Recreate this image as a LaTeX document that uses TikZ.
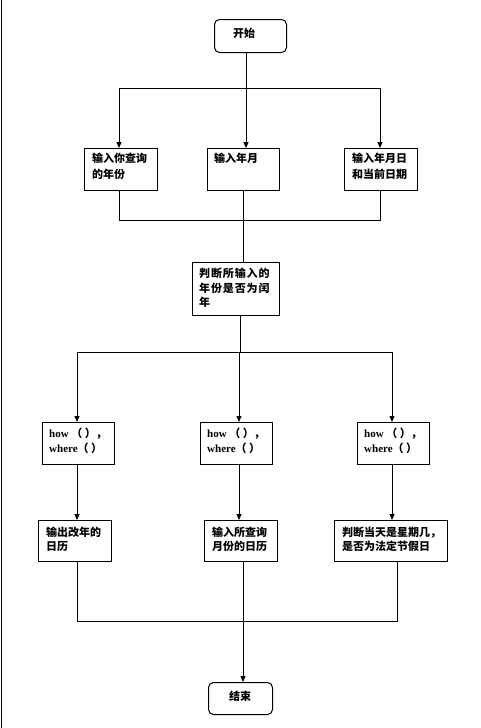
\documentclass[tikz,border=0pt]{standalone}
\usepackage{fontspec}
\setmainfont{Noto Sans CJK SC}
\newfontfamily\latf{Liberation Serif}
\usetikzlibrary{arrows.meta}
\tikzset{
  x=1pt, y=-1pt,
  box/.style={draw, line width=1pt, inner sep=0pt, anchor=north west},
  termbox/.style={box, rounded corners=5pt},
  txt/.style={inner sep=0pt, anchor=north west, align=left, font=\fontsize{11}{15}\selectfont\bfseries},
  ln/.style={line width=1pt},
  arr/.style={line width=1pt, -{Triangle[length=6pt,width=5pt]}}
}
\begin{document}
\begin{tikzpicture}
\useasboundingbox (0,0) rectangle (480,728);
\draw[line width=1pt] (1.5,0) -- (1.5,728);
% boxes
\node[termbox, minimum width=72pt, minimum height=33pt] (s) at (214,19) {};
\node[box, minimum width=73pt, minimum height=42pt] (b1) at (84,148) {};
\node[box, minimum width=72pt, minimum height=42pt] (b2) at (207,148) {};
\node[box, minimum width=73pt, minimum height=42pt] (b3) at (344,148) {};
\node[box, minimum width=87pt, minimum height=53pt] (b4) at (192,262) {};
\node[box, minimum width=72pt, minimum height=42pt] (c1) at (42,422) {};
\node[box, minimum width=72pt, minimum height=42pt] (c2) at (200,422) {};
\node[box, minimum width=72pt, minimum height=42pt] (c3) at (357,422) {};
\node[box, minimum width=73pt, minimum height=41pt] (d1) at (38,520) {};
\node[box, minimum width=73pt, minimum height=41pt] (d2) at (204,520) {};
\node[box, minimum width=113pt, minimum height=41pt] (d3) at (334,520) {};
\node[termbox, minimum width=64pt, minimum height=32pt] (e) at (208,682) {};
% texts
\node[txt] (ts) at ([shift={(19,9)}]s.north west) {开始};
\node[txt] (t1) at ([shift={(8,5)}]b1.north west) {输入你查询\\[1pt]的年份};
\node[txt] (t2) at ([shift={(7,5)}]b2.north west) {输入年月};
\node[txt] (t3) at ([shift={(8,5)}]b3.north west) {输入年月日\\[1pt]和当前日期};
\node[txt, font=\fontsize{11}{14.5}\selectfont\bfseries\addfontfeatures{LetterSpace=8}] (t4) at ([shift={(7,6)}]b4.north west) {判断所输入的\\年份是否为闰\\年};
\node[txt] (tc1) at ([shift={(7,6)}]c1.north west) {{\latf how} （ ），\\{\latf where}（ ）};
\node[txt] (tc2) at ([shift={(7,6)}]c2.north west) {{\latf how} （ ），\\{\latf where}（ ）};
\node[txt] (tc3) at ([shift={(7,6)}]c3.north west) {{\latf how} （ ），\\{\latf where}（ ）};
\node[txt, font=\fontsize{11}{14}\selectfont\bfseries] (td1) at ([shift={(8,7)}]d1.north west) {输出改年的\\日历};
\node[txt, font=\fontsize{11}{14}\selectfont\bfseries] (td2) at ([shift={(8,7)}]d2.north west) {输入所查询\\月份的日历};
\node[txt, font=\fontsize{11}{14}\selectfont\bfseries] (td3) at ([shift={(8,7)}]d3.north west) {判断当天是星期几，\\是否为法定节假日};
\node[txt] (te) at ([shift={(21,9)}]e.north west) {结束};
% junction coordinates
\coordinate (j0) at (246,88);
\coordinate (j1) at (119,88);
\coordinate (j3) at (380,88);
\coordinate (k1) at (119,220);
\coordinate (k3) at (380,220);
\coordinate (m0) at (240,352);
\coordinate (m1) at (77,352);
\coordinate (m2) at (239,352);
\coordinate (m3) at (392,352);
\coordinate (n1) at (77,621);
\coordinate (n2) at (243,621);
\coordinate (n3) at (397,621);
% connectors
\draw[ln] (s.south -| j0) -- (j0);
\draw[ln] (j1) -- (j3);
\draw[arr] (j1) -- (j1 |- b1.north);
\draw[arr] (j0) -- (j0 |- b2.north);
\draw[arr] (j3) -- (j3 |- b3.north);
\draw[ln] (k1 |- b1.south) -- (k1) -- (k3) -- (k3 |- b3.south);
\draw[ln] (243,190 |- b2.south) -- (243,0 |- b4.north);
\draw[ln] (m0 |- b4.south) -- (m0);
\draw[ln] (m1) -- (m3);
\draw[arr] (m1) -- (m1 |- c1.north);
\draw[arr] (m2) -- (m2 |- c2.north);
\draw[arr] (m3) -- (m3 |- c3.north);
\draw[arr] (m1 |- c1.south) -- (m1 |- d1.north);
\draw[arr] (m2 |- c2.south) -- (m2 |- d2.north);
\draw[arr] (m3 |- c3.south) -- (m3 |- d3.north);
\draw[ln] (n1 |- d1.south) -- (n1) -- (n3) -- (n3 |- d3.south);
\draw[arr] (n2 |- d2.south) -- (n2 |- e.north);
\end{tikzpicture}
\end{document}
